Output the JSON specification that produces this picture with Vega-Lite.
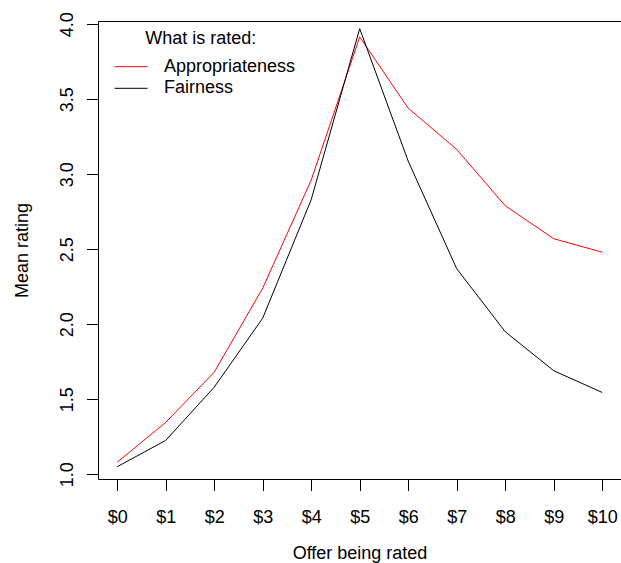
{
  "$schema": "https://vega.github.io/schema/vega-lite/v6.json",
  "width": 523,
  "height": 458,
  "autosize": {"type": "none"},
  "padding": {"left": 98, "top": 21, "right": 0, "bottom": 84},
  "background": "white",
  "config": {
    "view": {"stroke": null},
    "font": "Liberation Sans",
    "axisY": {
      "format": ".1f",
      "domain": true,
      "domainColor": "black",
      "domainWidth": 1,
      "ticks": true,
      "tickColor": "black",
      "tickWidth": 1,
      "tickSize": 11.5,
      "grid": false,
      "labelFont": "Liberation Sans",
      "labelFontSize": 18,
      "labelColor": "black",
      "labelAngle": 270,
      "labelAlign": "center",
      "labelBaseline": "alphabetic",
      "labelPadding": 14.1,
      "labelOverlap": false,
      "labelFlush": false,
      "titleFont": "Liberation Sans",
      "titleFontSize": 18,
      "titleFontWeight": "normal",
      "titleColor": "black",
      "titleAngle": 270,
      "titleX": -70.3,
      "titleY": 229,
      "titleBaseline": "alphabetic",
      "titleAlign": "center"
    }
  },
  "data": {
    "values": [
      {"offer": 0, "rating": 1.08, "rater": "Appropriateness"},
      {"offer": 1, "rating": 1.345, "rater": "Appropriateness"},
      {"offer": 2, "rating": 1.68, "rater": "Appropriateness"},
      {"offer": 3, "rating": 2.24, "rater": "Appropriateness"},
      {"offer": 4, "rating": 2.96, "rater": "Appropriateness"},
      {"offer": 5, "rating": 3.915, "rater": "Appropriateness"},
      {"offer": 6, "rating": 3.44, "rater": "Appropriateness"},
      {"offer": 7, "rating": 3.165, "rater": "Appropriateness"},
      {"offer": 8, "rating": 2.79, "rater": "Appropriateness"},
      {"offer": 9, "rating": 2.57, "rater": "Appropriateness"},
      {"offer": 10, "rating": 2.48, "rater": "Appropriateness"},
      {"offer": 0, "rating": 1.05, "rater": "Fairness"},
      {"offer": 1, "rating": 1.225, "rater": "Fairness"},
      {"offer": 2, "rating": 1.58, "rater": "Fairness"},
      {"offer": 3, "rating": 2.04, "rater": "Fairness"},
      {"offer": 4, "rating": 2.83, "rater": "Fairness"},
      {"offer": 5, "rating": 3.97, "rater": "Fairness"},
      {"offer": 6, "rating": 3.087, "rater": "Fairness"},
      {"offer": 7, "rating": 2.37, "rater": "Fairness"},
      {"offer": 8, "rating": 1.95, "rater": "Fairness"},
      {"offer": 9, "rating": 1.69, "rater": "Fairness"},
      {"offer": 10, "rating": 1.545, "rater": "Fairness"}
    ]
  },
  "resolve": {"axis": {"x": "independent"}},
  "layer": [
    {
      "mark": {"type": "line", "strokeWidth": 1},
      "encoding": {
        "x": {
          "field": "offer",
          "type": "quantitative",
          "scale": {"domain": [-0.396, 10.388], "nice": false, "zero": false},
          "axis": {
            "orient": "bottom",
            "values": [0, 1, 2, 3, 4, 5, 6, 7, 8, 9, 10],
            "labelExpr": "'$' + datum.value",
            "domain": true,
            "domainColor": "black",
            "domainWidth": 1,
            "ticks": true,
            "tickColor": "black",
            "tickWidth": 1,
            "tickSize": 11.5,
            "grid": false,
            "labelFont": "Liberation Sans",
            "labelFontSize": 18,
            "labelColor": "black",
            "labelPadding": 31.8,
            "labelBaseline": "alphabetic",
            "labelAlign": "center",
            "labelAngle": 0,
            "labelOverlap": false,
            "labelFlush": false,
            "title": "Offer being rated",
            "titleFont": "Liberation Sans",
            "titleFontSize": 18,
            "titleFontWeight": "normal",
            "titleColor": "black",
            "titleX": 261.5,
            "titleY": 79.5,
            "titleBaseline": "alphabetic",
            "titleAlign": "center"
          }
        },
        "y": {
          "field": "rating",
          "type": "quantitative",
          "scale": {"domain": [0.968, 4.021], "nice": false, "zero": false},
          "title": "Mean rating",
          "axis": {"values": [1, 1.5, 2, 2.5, 3, 3.5, 4]}
        },
        "color": {
          "field": "rater",
          "type": "nominal",
          "scale": {"domain": ["Appropriateness", "Fairness"], "range": ["#FF0000", "#000000"]},
          "legend": {
            "orient": "none",
            "legendX": 8.7,
            "legendY": 9,
            "padding": 0,
            "title": "What is rated:",
            "titleFont": "Liberation Sans",
            "titleFontSize": 18,
            "titleFontWeight": "normal",
            "titleColor": "black",
            "titleAnchor": "middle",
            "titlePadding": 9.7,
            "labelFont": "Liberation Sans",
            "labelFontSize": 18,
            "labelColor": "black",
            "labelOffset": 24,
            "labelLimit": 400,
            "symbolType": "M-2,0H2",
            "symbolSize": 272.25,
            "symbolStrokeWidth": 1,
            "symbolOffset": 15.3,
            "rowPadding": 3.6
          }
        }
      }
    },
    {
      "mark": {"type": "line", "opacity": 0},
      "encoding": {
        "x": {
          "field": "offer",
          "type": "quantitative",
          "axis": {
            "orient": "top",
            "domain": true,
            "domainColor": "black",
            "domainWidth": 1,
            "ticks": false,
            "labels": false,
            "grid": false,
            "title": null
          }
        },
        "y": {
          "field": "rating",
          "type": "quantitative",
          "title": "Mean rating",
          "axis": {"values": [1, 1.5, 2, 2.5, 3, 3.5, 4]}
        },
        "detail": {"field": "rater", "type": "nominal"}
      }
    }
  ]
}
